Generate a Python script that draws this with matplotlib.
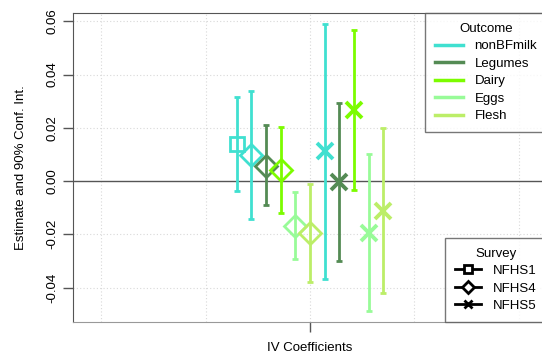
import numpy as np
import matplotlib.pyplot as plt
from matplotlib.lines import Line2D

plt.rcParams['font.family'] = ['Liberation Sans', 'DejaVu Sans']

# estimates, in plotting order
survey = ['NFHS1', 'NFHS4', 'NFHS4', 'NFHS4', 'NFHS4', 'NFHS4',
          'NFHS5', 'NFHS5', 'NFHS5', 'NFHS5', 'NFHS5']
outcome = ['nonBFmilk', 'nonBFmilk', 'Legumes', 'Dairy', 'Eggs', 'Flesh',
           'nonBFmilk', 'Legumes', 'Dairy', 'Eggs', 'Flesh']
est = [0.0139, 0.0098, 0.0057, 0.0041, -0.0169, -0.0196,
       0.0113, -0.0003, 0.0266, -0.0194, -0.0111]
lo = [-0.0036, -0.0144, -0.0090, -0.0121, -0.0294, -0.0379,
      -0.0367, -0.0301, -0.0034, -0.0487, -0.0421]
hi = [0.0316, 0.0340, 0.0211, 0.0204, -0.0042, -0.0012,
      0.0588, 0.0295, 0.0569, 0.0100, 0.0199]

outcomes = ['nonBFmilk', 'Legumes', 'Dairy', 'Eggs', 'Flesh']
surveys = ['NFHS1', 'NFHS4', 'NFHS5']
colors = {'nonBFmilk': '#40E0D0', 'Legumes': '#548B54', 'Dairy': '#7CFC00',
          'Eggs': '#98FB98', 'Flesh': '#BCEE68'}
markers = {'NFHS1': 's', 'NFHS4': 'D', 'NFHS5': 'x'}
msize = {'NFHS1': 10, 'NFHS4': 11, 'NFHS5': 11}

fig = plt.figure(figsize=(5.42, 3.58), dpi=100)
ax = fig.add_axes([73/542, 36/358, 474/542, 309/358])

# dodge the points around x = 0
n = len(est)
xs = (np.arange(n) - (n - 1) / 2) * 0.14

for gx in range(-2, 3):
    ax.axvline(gx, color='#d9d9d9', lw=0.8, ls=(0, (1, 2)), zorder=0)
for gy in [-0.04, -0.02, 0.02, 0.04, 0.06]:
    ax.axhline(gy, color='#d9d9d9', lw=0.8, ls=(0, (1, 2)), zorder=0)
ax.axhline(0, color='#555555', lw=1, zorder=1)

for i in range(n):
    c = colors[outcome[i]]
    ax.errorbar(xs[i], est[i], yerr=[[est[i] - lo[i]], [hi[i] - est[i]]],
                fmt='none', ecolor=c, elinewidth=2, capsize=2.5, capthick=2, zorder=2)
    m = markers[survey[i]]
    if m == 'x':
        ax.plot(xs[i], est[i], marker='x', ms=msize[survey[i]], mew=2.8,
                color=c, ls='none', zorder=3)
    else:
        ax.plot(xs[i], est[i], marker=m, ms=msize[survey[i]], mew=2,
                mec=c, mfc='none', ls='none', zorder=3)

ax.set_xlim(-2.268, 2.268)
ax.set_ylim(-0.0529, 0.0631)
ax.set_yticks([-0.04, -0.02, 0.0, 0.02, 0.04, 0.06])
ax.set_yticklabels(['-0.04', '-0.02', '0.00', '0.02', '0.04', '0.06'],
                   rotation=90, va='center', fontsize=9.5)
ax.set_xticks([0])
ax.set_xticklabels([''])
ax.tick_params(axis='both', length=7, color='#555555', width=1)
ax.set_xlabel('IV Coefficients', fontsize=9.5, labelpad=4)
ax.set_ylabel('Estimate and 90% Conf. Int.', fontsize=9.5, labelpad=14)
for s in ax.spines.values():
    s.set_color('#555555')
ax.spines['bottom'].set_color('#999999')

h1 = [Line2D([], [], color=colors[o], lw=2.5) for o in outcomes]
leg1 = ax.legend(h1, outcomes, title='Outcome', loc='upper right',
                 borderaxespad=0, fancybox=False, edgecolor='#555555',
                 fontsize=9.5, title_fontsize=9.5, handlelength=2.1,
                 handletextpad=0.9, labelspacing=0.4, borderpad=0.75)
leg1.get_frame().set_linewidth(1)
ax.add_artist(leg1)

h2 = [Line2D([], [], color='black', lw=2, marker=markers[s], ms=6, mew=2,
             mfc='white') for s in surveys]
leg2 = ax.legend(h2, surveys, title='Survey', loc='lower right',
                 borderaxespad=0, fancybox=False, edgecolor='#555555',
                 fontsize=9.5, title_fontsize=9.5, handlelength=2.0,
                 handletextpad=0.9, labelspacing=0.4, borderpad=0.75)
leg2.get_frame().set_linewidth(1)

fig.savefig('out.png', dpi=100)
